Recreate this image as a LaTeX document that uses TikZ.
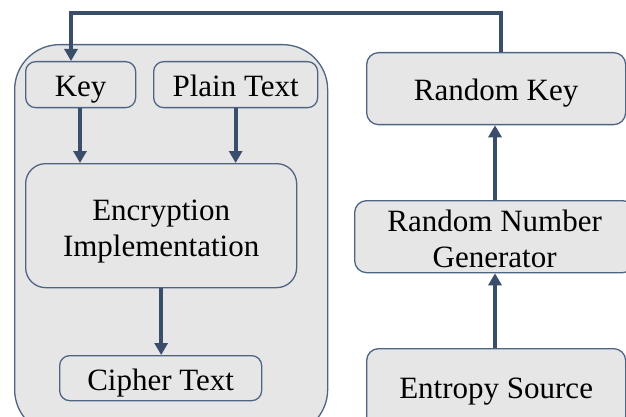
\documentclass[tikz,border=0pt]{standalone}
\usepackage{fontspec}
\setmainfont{Liberation Serif}
\usetikzlibrary{arrows.meta}
\definecolor{linecol}{HTML}{3A4D6A}
\definecolor{edgecol}{HTML}{4E6482}
\definecolor{fillcol}{HTML}{E6E6E6}
% label set a little lower than the geometric centre of its box
\newcommand\boxtext[2][-11pt]{\raisebox{#1}[0pt][0pt]{\begin{tabular}{@{}c@{}}#2\end{tabular}}}
\tikzset{
  box/.style={draw=edgecol, line width=1.3pt, fill=fillcol, rounded corners=10pt,
    anchor=north west, align=center, inner sep=0pt,
    font=\fontsize{31}{36}\selectfont},
  flow/.style={draw=linecol, line width=4pt,
    -{Triangle[width=13pt,length=12pt]}},
}
\begin{document}
\begin{tikzpicture}[x=1pt,y=-1pt]
\useasboundingbox (0,0) rectangle (626,417);
\clip (0,0) rectangle (626,417);
% encryption group container
\node[box, rounded corners=45pt, minimum width=313pt, minimum height=390pt] (grp) at (14,44) {};
% nodes inside the container
\node[box, minimum width=110pt, minimum height=46pt] (key) at (25,61) {\boxtext{Key}};
\node[box, minimum width=164pt, minimum height=46pt] (plain) at (153,61) {\boxtext{Plain Text}};
\node[box, rounded corners=20pt, minimum width=271pt, minimum height=124pt] (enc) at (25,163) {\boxtext[-12pt]{Encryption\\Implementation}};
\node[box, minimum width=202pt, minimum height=45pt] (cipher) at (59,355) {\boxtext{Cipher Text}};
% key generation chain
\node[box, rounded corners=12pt, minimum width=259pt, minimum height=72pt] (rkey) at (366,52) {\boxtext{Random Key}};
\node[box, rounded corners=12pt, minimum width=280pt, minimum height=72pt] (rng) at (354,200) {\boxtext[-12pt]{Random Number\\Generator}};
\node[box, rounded corners=12pt, minimum width=259pt, minimum height=80pt] (ent) at (366,348) {\boxtext[-9pt]{Entropy Source}};
% connectors
\coordinate (tr) at (501,13);
\coordinate (tl) at (71,13);
\draw[flow] (rkey.north -| tr) -- (tr) -- (tl) -- (tl |- key.north);
\draw[flow] (key.south -| 80,0) -- (enc.north -| 80,0);
\draw[flow] (plain.south) -- (plain.south |- enc.north);
\draw[flow] (enc.south) -- (cipher.north -| enc.south);
\draw[flow] (ent.north -| 495,0) -- (rng.south -| 495,0);
\draw[flow] (rng.north -| 495,0) -- (rkey.south -| 495,0);
\end{tikzpicture}
\end{document}
